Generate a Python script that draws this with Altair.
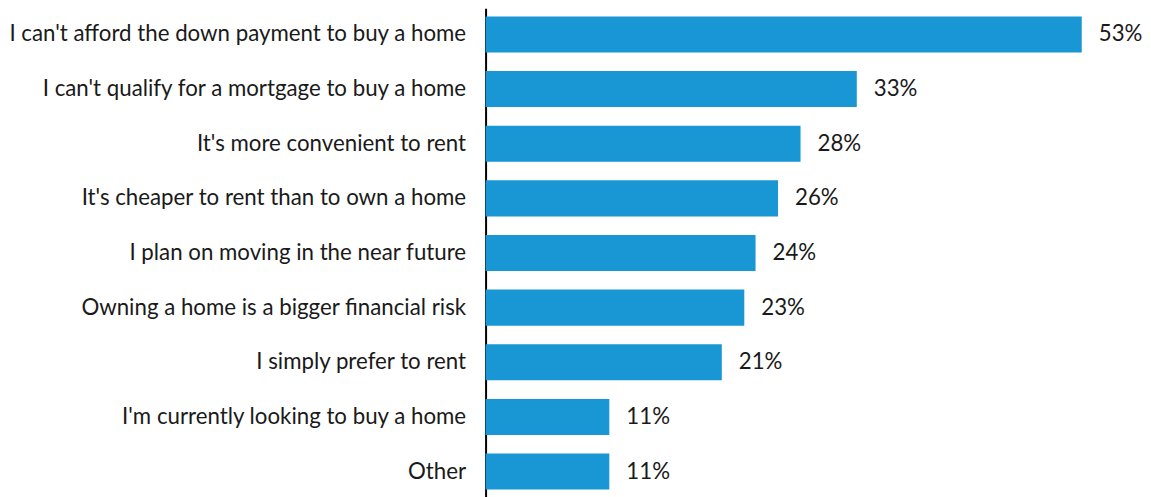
import altair as alt
import pandas as pd

reasons = [
    "I can't afford the down payment to buy a home",
    "I can't qualify for a mortgage to buy a home",
    "It's more convenient to rent",
    "It's cheaper to rent than to own a home",
    "I plan on moving in the near future",
    "Owning a home is a bigger financial risk",
    "I simply prefer to rent",
    "I'm currently looking to buy a home",
    "Other",
]
shares = [53, 33, 28, 26, 24, 23, 21, 11, 11]

df = pd.DataFrame({"reason": reasons, "share": shares})
df["label"] = df["share"].astype(str) + "%"

y = alt.Y(
    "reason:N",
    sort=reasons,
    title=None,
    scale=alt.Scale(paddingInner=0.34, paddingOuter=0.15),
    axis=alt.Axis(
        ticks=False,
        domain=True,
        domainColor="#000000",
        domainWidth=2,
        labelFont="Lato",
        labelFontSize=22.3,
        labelColor="#1a1a1a",
        labelPadding=20,
        labelLimit=700,
    ),
)
x = alt.X(
    "share:Q",
    scale=alt.Scale(domain=[0, 58], nice=False),
    axis=None,
)

bars = alt.Chart(df).mark_bar(color="#1996d4").encode(y=y, x=x)
text = alt.Chart(df).mark_text(
    align="left", baseline="middle", dx=17, font="Lato", fontSize=22.3, color="#1a1a1a"
).encode(y=alt.Y("reason:N", sort=reasons), x="share:Q", text="label:N")

chart = (
    (bars + text)
    .properties(width=653, height=490, padding=0)
    .configure_view(stroke=None)
)
chart.save("out.html", embed_options={"renderer": "svg", "actions": False})
